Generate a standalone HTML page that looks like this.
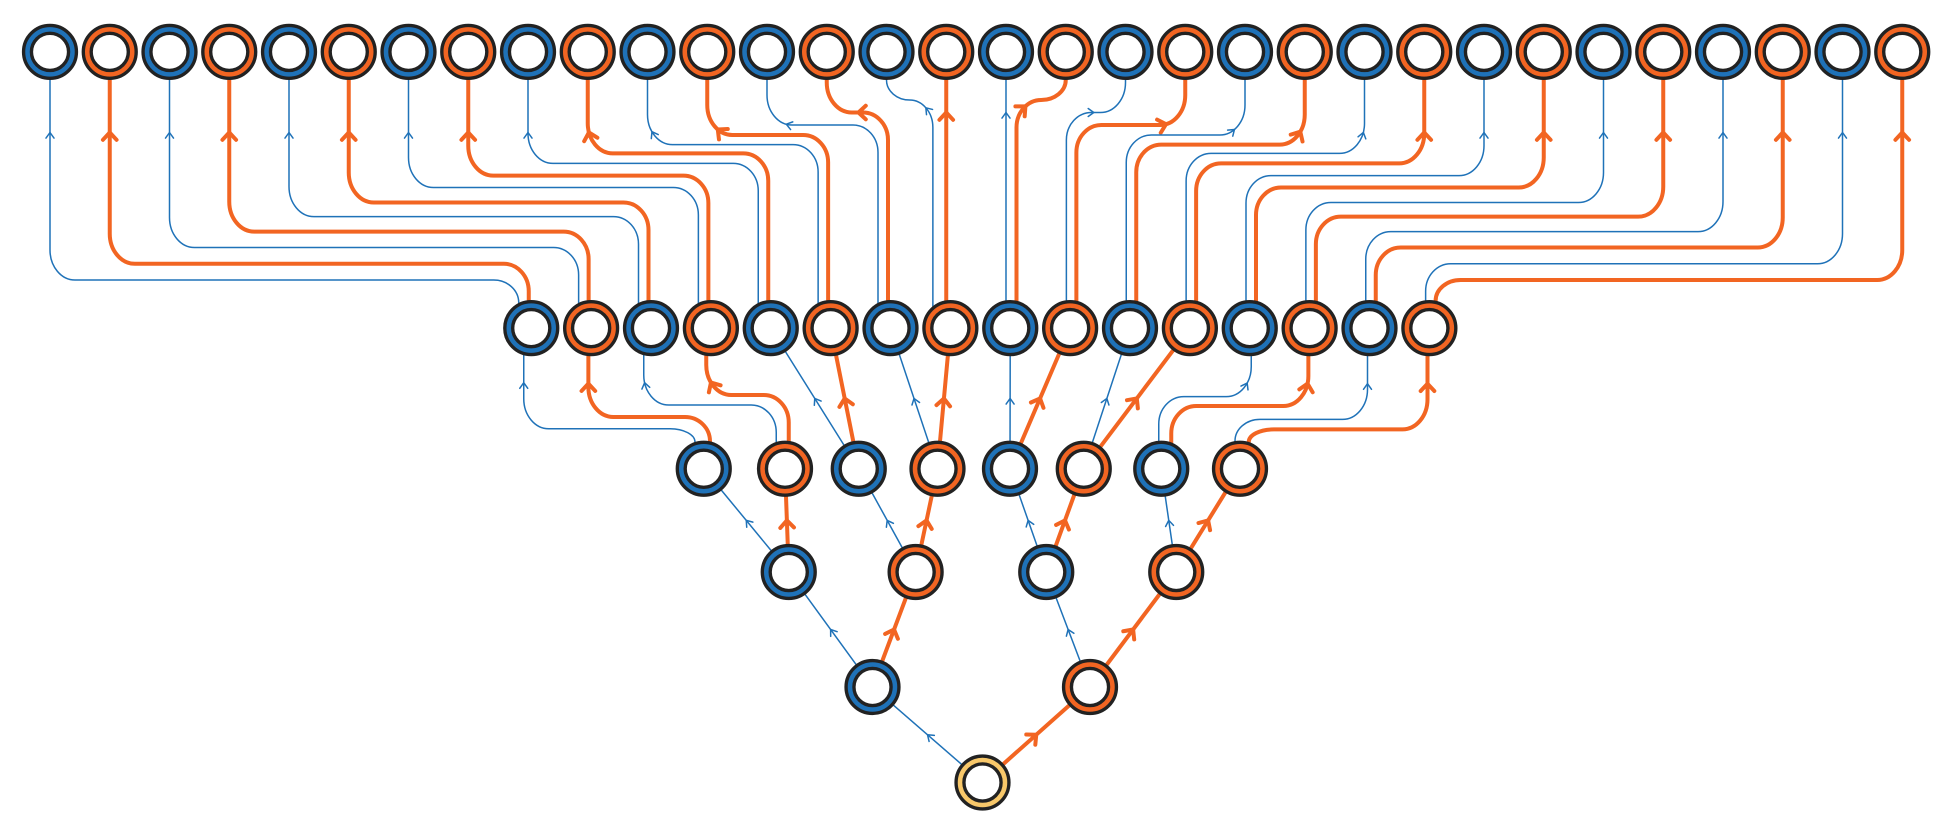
<!DOCTYPE html>
<html><head><meta charset="utf-8"><style>
html,body{margin:0;padding:0;background:#fff;width:1948px;height:835px;overflow:hidden}
svg{display:block}
</style></head><body>
<svg id="s" xmlns="http://www.w3.org/2000/svg" width="1948" height="835" viewBox="0 0 1558.4 668">
<rect width="1558.4" height="668" fill="#fff"/>
<g id="edges"></g><g id="nodes"></g>
</svg>
<script>
(function(){
var NS='http://www.w3.org/2000/svg';
var B='#1f72b8',O='#f26522',Y='#f8c86a';
var R=22.5;
var E=document.getElementById('edges'),N=document.getElementById('nodes');
function add(tag,a,p){var e=document.createElementNS(NS,tag);for(var k in a)e.setAttribute(k,a[k]);p.appendChild(e);return e;}
var tops=[],r2=[];
for(var k=0;k<32;k++)tops.push({x:40+47.8*k,y:41.5,c:k%2?O:B});
for(var i=0;i<16;i++)r2.push({x:425+47.9*i,y:262.5,c:i%2?O:B});
var r3x=[563,628,687,750,808,867,929,992],r3=[];
for(i=0;i<8;i++)r3.push({x:r3x[i],y:375,c:i%2?O:B});
var r4=[631,732.5,837,941].map(function(x,i){return{x:x,y:457.6,c:i%2?O:B};});
var r5=[{x:698,y:549.6,c:B},{x:872,y:549.6,c:O}];
var root={x:786,y:626,c:Y};

function edge(d,col,dist){
  var thick=col===O;
  var p=add('path',{d:d,fill:'none',stroke:col,'stroke-width':thick?3.2:1.2,'stroke-linecap':'round','stroke-linejoin':'round'},E);
  var len=p.getTotalLength();
  var t=dist==null?len/2:Math.max(2,len-dist);
  var a=p.getPointAtLength(t-1),b=p.getPointAtLength(t+1);
  var ang=Math.atan2(b.y-a.y,b.x-a.x);
  var tip=p.getPointAtLength(t);
  var L=thick?8:5.5,sp=thick?0.75:0.62;
  var x1=tip.x-L*Math.cos(ang-sp),y1=tip.y-L*Math.sin(ang-sp);
  var x2=tip.x-L*Math.cos(ang+sp),y2=tip.y-L*Math.sin(ang+sp);
  add('path',{d:'M'+x1+' '+y1+'L'+tip.x+' '+tip.y+'L'+x2+' '+y2,fill:'none',stroke:col,'stroke-width':thick?3.2:1.2,'stroke-linecap':'round','stroke-linejoin':'round'},E);
}
function orth(sx,sy,L,tx,ty){
  if(Math.abs(tx-sx)<0.6)return 'M'+tx+' '+sy+'L'+tx+' '+ty;
  var d=tx>sx?1:-1,ad=Math.abs(tx-sx);
  var h1=Math.min(20,ad/2),v1=Math.min(22,sy-L);
  var h2=Math.min(20,ad/2),v2=Math.min(24,L-ty);
  var q=0.448;
  return 'M'+sx+' '+sy+'L'+sx+' '+(L+v1)+
    'C'+sx+' '+(L+v1*q)+' '+(sx+d*h1*q)+' '+L+' '+(sx+d*h1)+' '+L+
    'L'+(tx-d*h2)+' '+L+
    'C'+(tx-d*h2*q)+' '+L+' '+tx+' '+(L-v2*q)+' '+tx+' '+(L-v2)+
    'L'+tx+' '+ty;
}
function topY(cy,off){return cy-Math.sqrt(R*R-off*off);}
function botY(cy,off){return cy+Math.sqrt(R*R-off*off);}

var Lt=[224,211,198,185.3,173.3,162,150,140.5,130.7,122.7,115.7,108,100,90,80,null];
for(k=0;k<32;k++){
  i=k>>1;var odd=k%2;var off;
  if(i<8)off=odd?-2:-10;else off=odd?5:-3;
  if(i==7)off=odd?0:-14;
  var L=k<16?Lt[k]:Lt[31-k];
  var tx=tops[k].x;
  var sx=r2[i].x+off;
  if(L==null){sx=tx;}
  var sy=topY(r2[i].y,sx-r2[i].x);
  edge(orth(sx,sy,L==null?0:L,tx,tops[k].y+R),odd?O:B,L==null?26:42);
}
var cv=[[0,0,556,343,419],[0,1,568,333.6,470.7],[1,2,621,324,515],[1,3,631,316,565],
        [6,12,927,317.3,1001],[6,13,937,324.8,1046.7],[7,14,988,335.5,1094],[7,15,999,343.5,1142]];
cv.forEach(function(c){
  var p=r3[c[0]],ch=r2[c[1]];
  var sy=topY(p.y,c[2]-p.x),ty=botY(ch.y,c[4]-ch.x);
  edge(orth(c[2],sy,c[3],c[4],ty),c[1]%2?O:B,22);
});
function straight(p,c,col){
  var dx=c.x-p.x,dy=c.y-p.y,l=Math.sqrt(dx*dx+dy*dy),ux=dx/l,uy=dy/l;
  edge('M'+(p.x+ux*R)+' '+(p.y+uy*R)+'L'+(c.x-ux*R)+' '+(c.y-uy*R),col,null);
}
for(var j=2;j<=5;j++){straight(r3[j],r2[2*j],B);straight(r3[j],r2[2*j+1],O);}
for(j=0;j<4;j++){straight(r4[j],r3[2*j],B);straight(r4[j],r3[2*j+1],O);}
for(j=0;j<2;j++){straight(r5[j],r4[2*j],B);straight(r5[j],r4[2*j+1],O);}
straight(root,r5[0],B);straight(root,r5[1],O);

function node(n){
  add('circle',{cx:n.x,cy:n.y,r:21.15,fill:n.c,stroke:'#222','stroke-width':2.7},N);
  add('circle',{cx:n.x,cy:n.y,r:14.85,fill:'#fff',stroke:'#222','stroke-width':2.7},N);
}
tops.concat(r2,r3,r4,r5,[root]).forEach(node);
})();
</script>
</body></html>
